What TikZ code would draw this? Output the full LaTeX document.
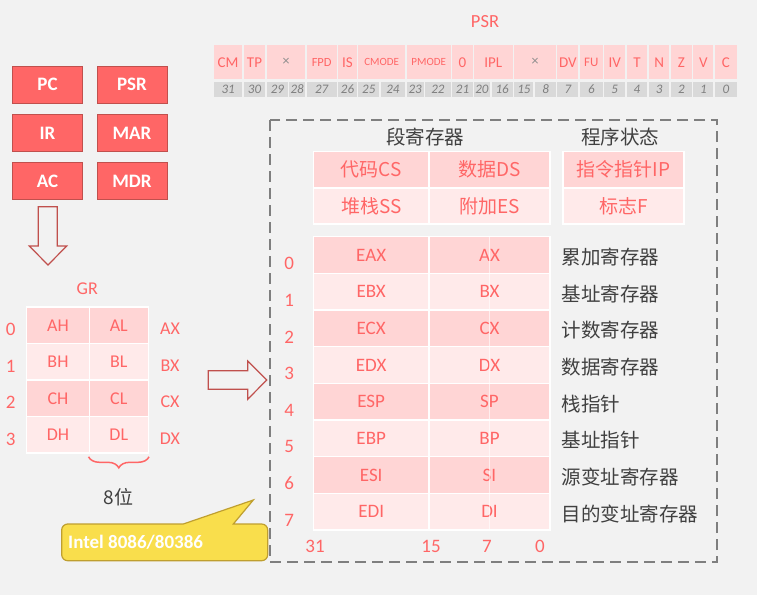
\documentclass[tikz,border=0pt]{standalone}
\usepackage{fontspec}
\setmainfont{Carlito}
\newfontfamily\cjk{Noto Sans CJK SC}
\usetikzlibrary{decorations.pathreplacing}

\definecolor{bg}{HTML}{F2F2F2}
\definecolor{boxred}{HTML}{FF6666}
\definecolor{edgered}{HTML}{C0504D}
\definecolor{pinkA}{HTML}{FFD5D5}
\definecolor{pinkB}{HTML}{FFEAEA}
\definecolor{txtred}{HTML}{FF6666}
\definecolor{bitgray}{HTML}{D9D9D9}
\definecolor{bitnum}{HTML}{7F7F7F}
\definecolor{crossgray}{HTML}{8C8C8C}
\definecolor{darktext}{HTML}{404040}
\definecolor{dashgray}{HTML}{7F7F7F}
\definecolor{noteyellow}{HTML}{F9DE4C}
\definecolor{noteedge}{HTML}{BF9F2F}

\newcommand{\fsz}[1]{\fontsize{#1}{#1}\selectfont}
\newcommand{\crossmark}{{\color{crossgray}\fsz{14}×}}

\tikzset{
  regbox/.style={draw=edgered, line width=1pt, fill=boxred, text=white, font=\bfseries\fsz{19}, minimum width=70pt, minimum height=37pt, inner sep=0pt},
  psrcell/.style={fill=pinkA, text=txtred, minimum height=34.5pt, inner sep=0pt},
  bitcell/.style={fill=bitgray, text=bitnum, font=\itshape\fsz{13}, minimum height=15pt, inner sep=0pt},
  grcell/.style={draw=white, line width=1.5pt, text=txtred, font=\fsz{18}, minimum height=36.5pt, inner sep=0pt},
  segcell/.style={draw=white, line width=1.5pt, text=txtred, font=\cjk\fsz{19}, minimum height=36.3pt, inner sep=0pt},
  rowcell/.style={draw=white, line width=1.5pt, text=txtred, font=\fsz{19}, minimum height=36.67pt, inner sep=0pt},
  rednum/.style={text=txtred, font=\fsz{19}, inner sep=0pt},
  cntext/.style={text=darktext, font=\cjk\fsz{19.5}, inner sep=0pt},
  blockarrow/.style={draw=edgered, line width=1.2pt, fill=bg},
  dashbox/.style={draw=dashgray, line width=2pt, dash pattern=on 11pt off 6pt},
}

\begin{document}
\begin{tikzpicture}[x=1pt,y=-1pt]
  \fill[bg] (0,0) rectangle (757,595);
  \useasboundingbox (0,0) rectangle (757,595);

  % left registers
  \node[regbox] (pc)  at (47.5,84.7)  {PC};
  \node[regbox] (psr) at (132,84.7)   {PSR};
  \node[regbox] (ir)  at (47.5,132.9) {IR};
  \node[regbox] (mar) at (132,132.9)  {MAR};
  \node[regbox] (ac)  at (47.5,181.2) {AC};
  \node[regbox] (mdr) at (132,181.2)  {MDR};

  \draw[blockarrow] (38.3,206.7) -- (57.3,206.7) -- (57.3,246) -- (66.7,246) -- (48,265) -- (29.3,246) -- (38.3,246) -- cycle;

  % PSR layout
  \node[text=txtred, font=\fsz{18.5}] (psrtitle) at (485,22) {PSR};
  \foreach \xa/\xb/\lbl/\fs [count=\i] in {214/242.3/CM/15, 244/265/TP/15, 267.3/305/\crossmark/14, 306.7/336.7/FPD/12.5, 338.3/356.7/IS/15, 358.3/405/CMODE/11, 406.7/450.7/PMODE/11, 452.3/472.7/0/15, 474/512.7/IPL/15, 514.3/556/\crossmark/14, 557.3/578.3/DV/15, 580/602.7/FU/13, 604.3/625/IV/15, 626.7/647.3/T/15, 649/669.3/N/15, 671/691.7/Z/15, 693.3/713.3/V/15, 715/736.7/C/15}
    \node[psrcell, font=\fsz{\fs}, minimum width={(\xb-\xa)*1pt}] (flag\i) at ({(\xa+\xb)/2},62.2) {\lbl};
  \foreach \xa/\xb/\num [count=\i] in {214/242.3/31, 244/265/30, 267.3/287.5/29, 289.2/305/28, 306.7/336.7/27, 338.3/356.7/26, 358.3/379.2/25, 380.9/405/24, 406.7/423.5/23, 425.2/450.7/22, 452.3/472.7/21, 474/489.8/20, 491.5/512.7/16, 514.3/533.4/15, 535.1/556/8, 557.3/578.3/7, 580/602.7/6, 604.3/625/5, 626.7/647.3/4, 649/669.3/3, 671/691.7/2, 693.3/713.3/1, 715/736.7/0}
    \node[bitcell, minimum width={(\xb-\xa)*1pt}] (bit\i) at ({(\xa+\xb)/2},89.2) {\num};

  % GR
  \node[text=txtred, font=\fsz{18}] (grtitle) at (87.3,288.3) {GR};
  \foreach \hi/\lo/\xreg/\fc [count=\i from 0] in {AH/AL/AX/pinkA, BH/BL/BX/pinkB, CH/CL/CX/pinkA, DH/DL/DX/pinkB} {
    \node[grcell, fill=\fc, minimum width=62.6pt] (gh\i) at (58,{325.3+36.5*\i}) {\hi};
    \node[grcell, fill=\fc, minimum width=59pt] (gl\i) at (118.8,{325.3+36.5*\i}) {\lo};
    \node[rednum] (gn\i) at (10.7,{329.5+36.5*\i}) {\i};
    \node[rednum, font=\fsz{18}] (gx\i) at (170,{329+36.5*\i}) {\xreg};
  }
  \draw[txtred, line width=1.5pt, decorate, decoration={brace, mirror, amplitude=11pt}]
    ([yshift=-3pt]gl3.south west) -- ([yshift=-3pt]gl3.south east);
  \node[text=darktext, font=\cjk\fsz{19}] (eightbit) at (118.3,496.7) {8位};

  \draw[blockarrow] (208.3,370.7) -- (247.7,370.7) -- (247.7,361) -- (266.7,380) -- (247.7,399.3) -- (247.7,389.3) -- (208.3,389.3) -- cycle;

  % x86 registers
  \draw[dashbox] (270,120) rectangle (717,562);
  \node[cntext] (segtitle) at (425,136.7) {段寄存器};
  \node[cntext] (pstitle) at (620,136.7) {程序状态};

  \node[segcell, fill=pinkA, minimum width=115.7pt] (cs) at (371.2,169.7) {代码CS};
  \node[segcell, fill=pinkA, minimum width=121pt]   (ds) at (489.5,169.7) {数据DS};
  \node[segcell, fill=pinkB, minimum width=115.7pt] (ss) at (371.2,205.9) {堆栈SS};
  \node[segcell, fill=pinkB, minimum width=121pt]   (es) at (489.5,205.9) {附加ES};
  \node[segcell, fill=pinkA, minimum width=121.3pt] (ip) at (623.4,169.7) {指令指针IP};
  \node[segcell, fill=pinkB, minimum width=121.3pt] (fl) at (623.4,205.9) {标志F};

  \foreach \ex/\sx/\desc/\fc [count=\i from 0] in {EAX/AX/累加寄存器/pinkA, EBX/BX/基址寄存器/pinkB, ECX/CX/计数寄存器/pinkA, EDX/DX/数据寄存器/pinkB, ESP/SP/栈指针/pinkA, EBP/BP/基址指针/pinkB, ESI/SI/源变址寄存器/pinkA, EDI/DI/目的变址寄存器/pinkB} {
    \node[rowcell, fill=\fc, minimum width=115.7pt] (ra\i) at (371.2,{255+36.67*\i}) {\ex};
    \node[rowcell, fill=\fc, minimum width=121pt] (rb\i) at (489.5,{255+36.67*\i}) {\sx};
    \node[rednum] (rn\i) at (289.3,{263.5+36.67*\i}) {\i};
    \node[cntext, anchor=west] (rd\i) at (561.7,{257+36.67*\i}) {\desc};
  }
  \draw[white, opacity=0.6, line width=0.8pt] (rb0.north) -- (rb7.south);

  \node[rednum] (b31) at (315,546) {31};
  \node[rednum] (b15) at (431,546) {15};
  \node[rednum] (b7)  at (487,546) {7};
  \node[rednum] (b0)  at (540,546) {0};

  % callout
  \draw[draw=noteedge, line width=1.2pt, fill=noteyellow, rounded corners=6pt]
    (61.7,541) -- (61.7,524) [sharp corners] -- (183.3,524) -- (253.3,500) -- (233.3,524) [rounded corners=6pt] -- (267.7,524) -- (267.7,560.7) -- (61.7,560.7) -- cycle;
  \node[anchor=west, text=white, font=\bfseries\fsz{19}, inner sep=0pt] (intel) at (68,542.7) {Intel 8086/80386};
\end{tikzpicture}
\end{document}
